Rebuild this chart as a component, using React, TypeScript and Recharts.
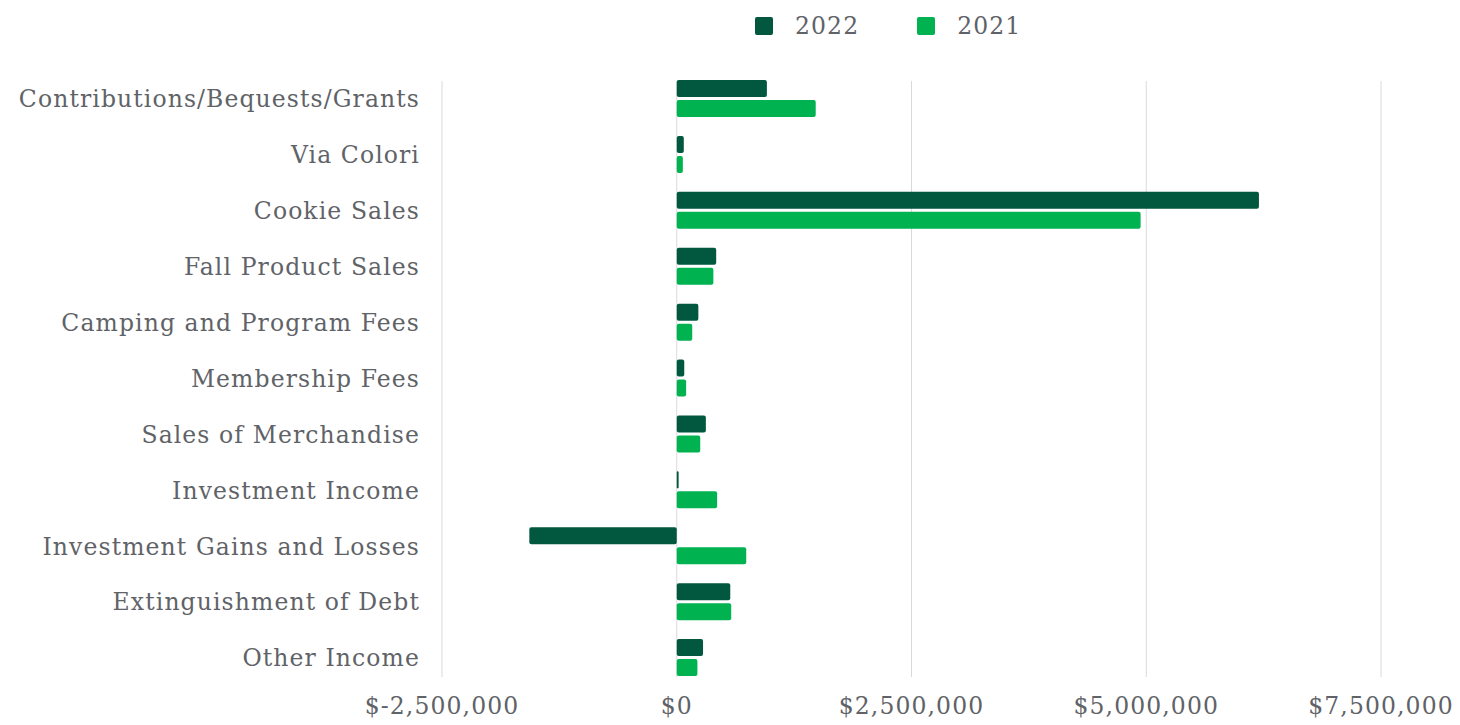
import { BarChart, Bar, XAxis, YAxis, CartesianGrid, Legend } from "recharts";

const categories = [
  "Contributions/Bequests/Grants",
  "Via Colori",
  "Cookie Sales",
  "Fall Product Sales",
  "Camping and Program Fees",
  "Membership Fees",
  "Sales of Merchandise",
  "Investment Income",
  "Investment Gains and Losses",
  "Extinguishment of Debt",
  "Other Income",
];

const values2022 = [960000, 75000, 6200000, 420000, 230000, 80000, 310000, 20000, -1570000, 570000, 280000];
const values2021 = [1480000, 65000, 4940000, 390000, 165000, 100000, 250000, 430000, 740000, 580000, 220000];

const xTicks = [-2500000, 0, 2500000, 5000000, 7500000];

const data = categories.map((name, i) => ({
  name,
  y2022: values2022[i],
  y2021: values2021[i],
}));

const FONT = "'DejaVu Serif', serif";
const TEXT = "#5f6368";
const DARK = "#02573f";
const BRIGHT = "#00b350";

const fmt = (v: number) => (v < 0 ? "$-" : "$") + Math.abs(v).toLocaleString("en-US");

const tickStyle = { fill: TEXT, fontSize: 23.5, fontFamily: FONT, letterSpacing: 1.1 };

function LegendBox() {
  const items = [
    { label: "2022", color: DARK },
    { label: "2021", color: BRIGHT },
  ];
  return (
    <div style={{ display: "flex", gap: 58, fontFamily: FONT, fontSize: 23.5, letterSpacing: 1.1, color: TEXT }}>
      {items.map((it) => (
        <div key={it.label} style={{ display: "flex", alignItems: "center" }}>
          <span style={{ width: 18, height: 18, background: it.color, borderRadius: 2, marginRight: 22 }} />
          <span>{it.label}</span>
        </div>
      ))}
    </div>
  );
}

export default function App() {
  return (
    <div style={{ position: "absolute", left: 0, top: 0, background: "#fff" }}>
      <BarChart
        width={1460}
        height={725}
        data={data}
        layout="vertical"
        margin={{ top: 71, right: 79, bottom: 0, left: 0 }}
        barSize={17}
        barGap={3}
      >
        <CartesianGrid horizontal={false} stroke="#d9d9d9" y={81} height={596} />
        <XAxis
          type="number"
          domain={[-2500000, 7500000]}
          ticks={xTicks}
          tickFormatter={fmt}
          axisLine={false}
          tickLine={false}
          tickSize={0}
          tickMargin={11}
          height={39}
          tick={tickStyle}
        />
        <YAxis
          type="category"
          dataKey="name"
          width={442}
          axisLine={false}
          tickLine={false}
          tickSize={0}
          tickMargin={22}
          tick={tickStyle}
        />
        <Legend
          verticalAlign="middle"
          content={() => <LegendBox />}
          wrapperStyle={{ top: 12, left: 755, width: "auto" }}
        />
        <Bar dataKey="y2022" name="2022" fill={DARK} radius={2} isAnimationActive={false} />
        <Bar dataKey="y2021" name="2021" fill={BRIGHT} radius={2} isAnimationActive={false} />
      </BarChart>
    </div>
  );
}
